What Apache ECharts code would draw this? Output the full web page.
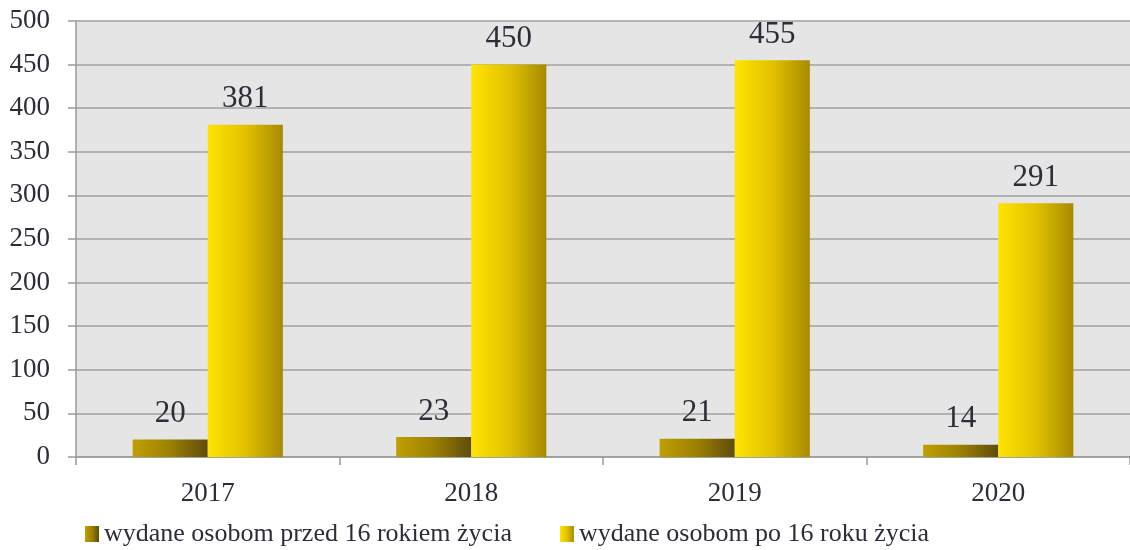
<!DOCTYPE html>
<html style="height: 100%">
<head>
    <meta charset="utf-8">
    <title>wydane osobom</title>
</head>
<body style="height: 100%; margin: 0; background: #fff">
    <div id="container" style="width: 1130px; height: 550px"></div>
    <script src="https://cdn.jsdelivr.net/npm/echarts@6/dist/echarts.min.js"></script>
    <script type="text/javascript">
        // dane
        var years = ['2017', '2018', '2019', '2020'];
        var przed16 = [20, 23, 21, 14];
        var po16 = [381, 450, 455, 291];
        var seriesNames = ['wydane osobom przed 16 rokiem życia', 'wydane osobom po 16 roku życia'];

        var font = 'Liberation Serif';
        var textColor = '#2d2d3a';

        var myChart = echarts.init(document.getElementById('container'));

        // gradient: jasny lewy bok -> ciemny prawy
        function grad(c1, c2, c3) {
            return new echarts.graphic.LinearGradient(0, 0, 1, 0, [
                { offset: 0, color: c1 },
                { offset: 0.5, color: c2 },
                { offset: 1, color: c3 }
            ]);
        }

        var labelStyle = {
            show: true,
            position: 'top',
            distance: 10,
            color: textColor,
            fontFamily: font,
            fontSize: 31
        };

        myChart.setOption({
            animation: false,
            textStyle: { fontFamily: font },
            legend: {
                left: 80,
                top: 516,
                itemWidth: 14,
                itemHeight: 16,
                itemGap: 48,
                icon: 'rect',
                textStyle: { color: textColor, fontFamily: font, fontSize: 26 },
                data: seriesNames
            },
            grid: {
                left: 76,
                top: 21,
                width: 1060,
                height: 436,
                show: true,
                backgroundColor: '#e5e5e5',
                borderWidth: 0
            },
            xAxis: {
                type: 'category',
                data: years,
                axisLine: { lineStyle: { color: '#9a9a9a', width: 1.5 } },
                axisTick: { show: true, length: 8, lineStyle: { color: '#9a9a9a', width: 1.5 } },
                axisLabel: { color: textColor, fontFamily: font, fontSize: 27, margin: 23 }
            },
            yAxis: {
                type: 'value',
                min: 0,
                max: 500,
                interval: 50,
                axisLine: { show: true, lineStyle: { color: '#9a9a9a', width: 1.5 } },
                axisTick: { show: true, length: 8, lineStyle: { color: '#9a9a9a', width: 1.5 } },
                axisLabel: { color: textColor, fontFamily: font, fontSize: 27, margin: 26 },
                splitLine: { lineStyle: { color: '#a0a0a0', width: 1.5 } }
            },
            series: [
                {
                    name: seriesNames[0],
                    type: 'bar',
                    data: przed16,
                    barGap: '0%',
                    barCategoryGap: '43%',
                    itemStyle: { color: grad('#bfa000', '#9c8000', '#5e4c0c') },
                    label: labelStyle
                },
                {
                    name: seriesNames[1],
                    type: 'bar',
                    data: po16,
                    barGap: '0%',
                    barCategoryGap: '43%',
                    itemStyle: { color: grad('#ffe400', '#e2c200', '#a68a00') },
                    label: labelStyle
                }
            ]
        });
    </script>
</body>
</html>
